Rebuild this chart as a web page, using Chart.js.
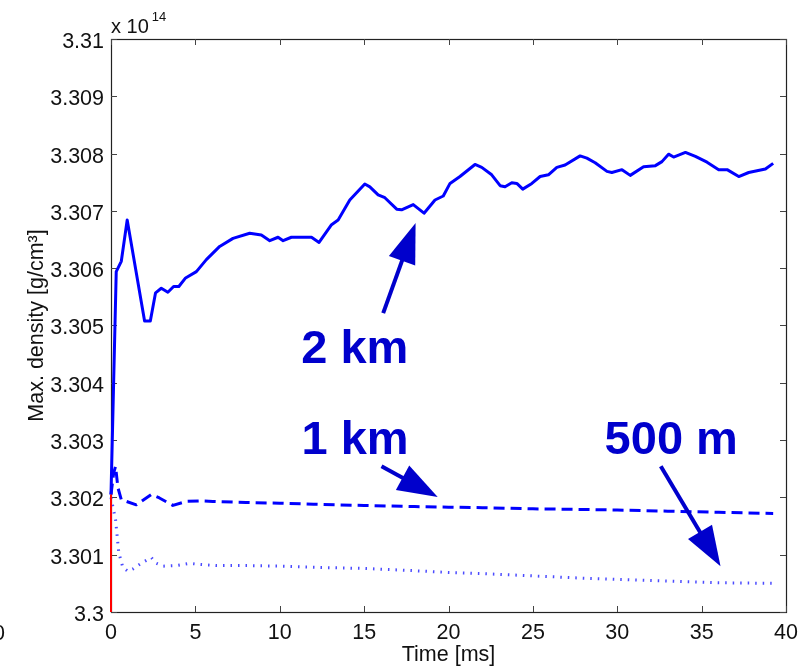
<!DOCTYPE html>
<html>
<head>
<meta charset="utf-8">
<script src="https://cdn.jsdelivr.net/npm/chart.js@4.4.1/dist/chart.umd.min.js"></script>
<style>
html,body{margin:0;padding:0;background:#fff;}
#wrap{width:800px;height:670px;position:relative;}
</style>
</head>
<body>
<div id="wrap"><canvas id="c" width="800" height="670"></canvas></div>
<script>
// Maximum density (units of 10^14 g/cm^3) against time [ms] for three grid spacings

const time2km = [0, 0.31, 0.61, 0.96, 1.99, 2.33, 2.64, 2.98, 3.37, 3.71, 4.02, 4.42, 5.06, 5.65, 6.44, 7.23, 8.22, 8.91, 9.41, 9.90, 10.20, 10.69, 11.88, 12.33, 13.07, 13.46, 14.15, 15.04, 15.34, 15.83, 16.23, 16.93, 17.22, 17.91, 18.55, 19.20, 19.69, 20.09, 20.68, 21.57, 21.97, 22.56, 23.06, 23.35, 23.75, 24.05, 24.40, 24.94, 25.43, 25.92, 26.42, 26.91, 27.80, 28.20, 28.69, 29.39, 29.68, 30.28, 30.77, 31.56, 32.26, 32.65, 33.04, 33.34, 34.04, 34.63, 35.32, 36.01, 36.51, 37.20, 37.79, 38.78, 39.24];
const dens2km = [3.30205, 3.30594, 3.30612, 3.30684, 3.30508, 3.30508, 3.30557, 3.30565, 3.30558, 3.30568, 3.30568, 3.30583, 3.30594, 3.30615, 3.30638, 3.30652, 3.30661, 3.30658, 3.30648, 3.30654, 3.30648, 3.30654, 3.30654, 3.30645, 3.30676, 3.30684, 3.30719, 3.30747, 3.30742, 3.30728, 3.30723, 3.30703, 3.30702, 3.30711, 3.30696, 3.30719, 3.30726, 3.30748, 3.30760, 3.30781, 3.30776, 3.30763, 3.30744, 3.30742, 3.30749, 3.30748, 3.30738, 3.30748, 3.30760, 3.30763, 3.30776, 3.30780, 3.30796, 3.30792, 3.30784, 3.30769, 3.30767, 3.30772, 3.30762, 3.30777, 3.30779, 3.30786, 3.30799, 3.30794, 3.30802, 3.30795, 3.30785, 3.30772, 3.30772, 3.30760, 3.30767, 3.30773, 3.30783];

const time1km = [0, 0.16, 0.27, 0.41, 0.61, 1.5, 2.39, 2.87, 3.67, 4.46, 5.25, 6.04, 8, 10, 12, 15, 18, 20, 22, 25, 28, 30, 33, 36, 39.24];
const dens1km = [3.30205, 3.30243, 3.30254, 3.30217, 3.30196, 3.30187, 3.30205, 3.30199, 3.30186, 3.30193, 3.30194, 3.30193, 3.30191, 3.30190, 3.30188, 3.30186, 3.30184, 3.30183, 3.30182, 3.30180, 3.30179, 3.30178, 3.30176, 3.30174, 3.30172];

const time500m = [0, 0.27, 0.46, 0.70, 1.0, 1.29, 1.79, 2.39, 2.68, 3.07, 3.87, 4.66, 5.25, 6.24, 8, 10, 12, 15, 18, 20, 22, 25, 28, 30, 33, 36, 39.24];
const dens500m = [3.30200, 3.30161, 3.30104, 3.30078, 3.30071, 3.30075, 3.30085, 3.30095, 3.30085, 3.30080, 3.30081, 3.30085, 3.30083, 3.30081, 3.30081, 3.30080, 3.30078, 3.30076, 3.30072, 3.30069, 3.30067, 3.30063, 3.30059, 3.30057, 3.30054, 3.30051, 3.30050];

const timeInit = [0, 0];
const densInit = [3.30000, 3.30205];

const xTickValues = [0, 5, 10, 15, 20, 25, 30, 35, 40];
const xTickLabels = ['0', '5', '10', '15', '20', '25', '30', '35', '40'];
const yTickValues = [3.300, 3.301, 3.302, 3.303, 3.304, 3.305, 3.306, 3.307, 3.308, 3.309, 3.310];
const yTickLabels = ['3.3', '3.301', '3.302', '3.303', '3.304', '3.305', '3.306', '3.307', '3.308', '3.309', '3.31'];

const resolutionLabels = ['2 km', '1 km', '500 m'];

const FONT = '"Liberation Sans", Arial, Helvetica, sans-serif';
const NAVY = '#0000cc';
const INK = '#111';

// Callouts placed in data coordinates: label baseline centre, arrow tail and arrow tip
const callouts = [
  { text: resolutionLabels[0], at: [14.45, 3.30435], from: [16.13, 3.305217], to: [18.05, 3.306787] },
  { text: resolutionLabels[1], at: [14.46, 3.30275], from: [16.03, 3.302542], to: [19.36, 3.302009] },
  { text: resolutionLabels[2], at: [33.2, 3.30275], from: [32.58, 3.302542], to: [36.12, 3.300798] }
];

function zip(xs, ys) { return xs.map((x, i) => ({ x: x, y: ys[i] })); }

function drawArrow(ctx, x0, y0, x1, y1) {
  const headLen = 40, headHalf = 14;
  const ang = Math.atan2(y1 - y0, x1 - x0);
  const bx = x1 - headLen * Math.cos(ang), by = y1 - headLen * Math.sin(ang);
  ctx.lineWidth = 4;
  ctx.beginPath(); ctx.moveTo(x0, y0); ctx.lineTo(bx + Math.cos(ang) * 2, by + Math.sin(ang) * 2); ctx.stroke();
  const px = -Math.sin(ang), py = Math.cos(ang);
  ctx.beginPath();
  ctx.moveTo(x1, y1);
  ctx.lineTo(bx + px * headHalf, by + py * headHalf);
  ctx.lineTo(bx - px * headHalf, by - py * headHalf);
  ctx.closePath(); ctx.fill();
}

// Boxed axes with inward ticks on all four sides
const boxAxes = {
  id: 'boxAxes',
  beforeDatasetsDraw(chart) {
    const { ctx, chartArea: a, scales: { x, y } } = chart;
    ctx.save();
    ctx.strokeStyle = '#222';
    ctx.lineWidth = 1.2;
    ctx.strokeRect(a.left + 0.5, a.top + 0.5, a.right - a.left, a.bottom - a.top);
    ctx.strokeStyle = '#444';
    ctx.lineWidth = 1;
    const len = 6;
    ctx.beginPath();
    x.ticks.forEach(t => {
      const px = Math.round(x.getPixelForValue(t.value)) + 0.5;
      ctx.moveTo(px, a.bottom); ctx.lineTo(px, a.bottom - len);
      ctx.moveTo(px, a.top); ctx.lineTo(px, a.top + len);
    });
    y.ticks.forEach(t => {
      const py = Math.round(y.getPixelForValue(t.value)) + 0.5;
      ctx.moveTo(a.left, py); ctx.lineTo(a.left + len, py);
      ctx.moveTo(a.right, py); ctx.lineTo(a.right - len, py);
    });
    ctx.stroke();

    // exponent of the density axis
    ctx.fillStyle = INK;
    ctx.textBaseline = 'alphabetic';
    ctx.textAlign = 'left';
    ctx.font = '20px ' + FONT;
    ctx.fillText('x 10', a.left, 33);
    const w = ctx.measureText('x 10').width;
    ctx.font = '13px ' + FONT;
    ctx.fillText('14', a.left + w + 3, 21);

    // neighbouring tick label at the left edge
    ctx.font = '21.5px ' + FONT;
    ctx.textAlign = 'center';
    ctx.fillText('0', -1, 640);
    ctx.restore();
  },
  afterDatasetsDraw(chart) {
    const { ctx, scales: { x, y } } = chart;
    ctx.save();
    ctx.fillStyle = NAVY;
    ctx.strokeStyle = NAVY;
    ctx.font = 'bold 47px ' + FONT;
    ctx.textAlign = 'center';
    ctx.textBaseline = 'alphabetic';
    callouts.forEach(c => {
      ctx.fillText(c.text, x.getPixelForValue(c.at[0]), y.getPixelForValue(c.at[1]));
      drawArrow(ctx,
        x.getPixelForValue(c.from[0]), y.getPixelForValue(c.from[1]),
        x.getPixelForValue(c.to[0]), y.getPixelForValue(c.to[1]));
    });
    ctx.restore();
  }
};

new Chart(document.getElementById('c'), {
  type: 'line',
  data: {
    datasets: [
      { data: zip(timeInit, densInit), borderColor: '#ff0000', borderWidth: 2, clip: 6 },
      { data: zip(time2km, dens2km), borderColor: '#0000ff', borderWidth: 3, clip: 6 },
      { data: zip(time1km, dens1km), borderColor: '#0000ff', borderWidth: 3, borderDash: [11, 6], clip: 6 },
      { data: zip(time500m, dens500m), borderColor: 'rgba(30,30,255,0.8)', borderWidth: 3, borderDash: [1.5, 6], clip: 6 }
    ]
  },
  options: {
    responsive: false,
    animation: false,
    events: [],
    layout: { padding: { left: 0, right: 14, top: 39, bottom: 0 } },
    elements: { point: { radius: 0 }, line: { tension: 0, borderCapStyle: 'butt', borderJoinStyle: 'round' } },
    plugins: { legend: { display: false }, tooltip: { enabled: false } },
    scales: {
      x: {
        type: 'linear', min: 0, max: 40,
        grid: { display: false, drawTicks: false },
        border: { display: false },
        afterBuildTicks: s => { s.ticks = xTickValues.map(v => ({ value: v })); },
        afterFit: s => { s.height = 58; s.paddingLeft = 0; s.paddingRight = 0; },
        ticks: {
          padding: 8, color: INK, maxRotation: 0, autoSkip: false,
          font: { family: FONT, size: 21.5 },
          callback: (v, i) => xTickLabels[i]
        },
        title: {
          display: true, text: 'Time [ms]', color: INK,
          font: { family: FONT, size: 21.5 }, padding: { top: 0, bottom: 2 }
        }
      },
      y: {
        type: 'linear', min: 3.300, max: 3.310,
        grid: { display: false, drawTicks: false },
        border: { display: false },
        afterBuildTicks: s => { s.ticks = yTickValues.map(v => ({ value: v })); },
        afterFit: s => { s.width = 111; s.paddingTop = 0; s.paddingBottom = 0; },
        ticks: {
          padding: 7, color: INK, autoSkip: false, labelOffset: 3,
          font: { family: FONT, size: 21.5 },
          callback: (v, i) => yTickLabels[i]
        },
        title: {
          display: true, text: 'Max. density [g/cm³]', color: INK,
          font: { family: FONT, size: 21.5 }, padding: { top: 24, bottom: 0 }
        }
      }
    }
  },
  plugins: [boxAxes]
});
</script>
</body>
</html>
